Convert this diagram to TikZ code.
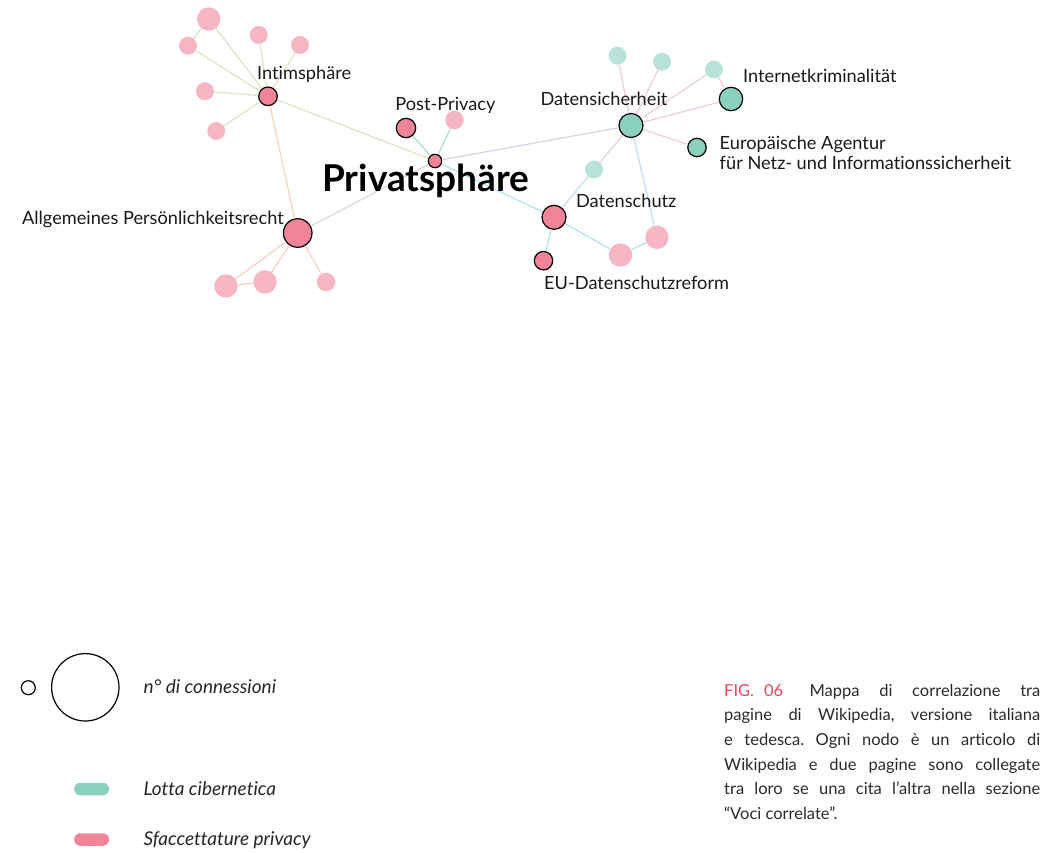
\documentclass[tikz,border=0pt]{standalone}
\usepackage{fontspec}
\setmainfont{Lato}[Ligatures=NoCommon]
\usetikzlibrary{shapes.misc}
\definecolor{dpink}{HTML}{F08597}
\definecolor{lpink}{HTML}{F7B6C3}
\definecolor{dteal}{HTML}{8BCFBF}
\definecolor{lteal}{HTML}{B9E3D8}
\definecolor{egreen}{HTML}{D5E8C2}
\definecolor{eorange}{HTML}{F2D6B4}
\definecolor{esalmon}{HTML}{F7CFC2}
\definecolor{ebeige}{HTML}{DDD6CF}
\definecolor{eteal}{HTML}{A9DCD2}
\definecolor{elav}{HTML}{D8D2E3}
\definecolor{ecyan}{HTML}{AEE2EC}
\definecolor{epink}{HTML}{EDCBE0}
\definecolor{eblue}{HTML}{C3DDF0}
\definecolor{figred}{HTML}{E8495A}
\definecolor{captext}{HTML}{2A2A2A}
\tikzset{
  dot/.style={circle, inner sep=0pt, minimum size=#1},
  lp/.style={dot=#1, fill=lpink, draw=none},
  lt/.style={dot=#1, fill=lteal, draw=none},
  dp/.style={dot=#1, fill=dpink, draw=black, line width=1.2pt},
  dt/.style={dot=#1, fill=dteal, draw=black, line width=1.2pt},
  edge/.style={draw=#1, line width=1.2pt},
  lbl/.style={inner sep=0pt, anchor=base west, font=\fontsize{18.2}{21}\selectfont, text=black!90},
  leg/.style={inner sep=0pt, anchor=base west, font=\fontsize{19}{22}\selectfont\itshape, text=black!85},
  pill/.style={rounded rectangle, inner sep=0pt, minimum width=35pt, minimum height=12.5pt, draw=none, fill=#1},
}
\begin{document}
\begin{tikzpicture}[x=1pt,y=-1pt]
\useasboundingbox (0,0) rectangle (1047,853);
% nodes left
\node[lp=23.4pt] (a1) at (208.7,19) {};
\node[lp=18pt] (a2) at (188,45.7) {};
\node[lp=18pt] (a3) at (258.7,35) {};
\node[lp=18pt] (a4) at (300,45) {};
\node[lp=18pt] (a5) at (205,91.3) {};
\node[lp=18pt] (a6) at (216.3,131) {};
\node[dp=18.6pt] (intim) at (268,96.3) {};
\node[dp=28.6pt] (allg) at (297.7,233) {};
\node[lp=23.4pt] (b1) at (226,286) {};
\node[lp=23.4pt] (b2) at (265,282) {};
\node[lp=18.6pt] (b3) at (326,282) {};
\node[dp=19.4pt] (post) at (406,128) {};
\node[lp=18.6pt] (pp) at (454.5,120) {};
\node[dp=13.4pt] (priv) at (435,161) {};
% nodes right
\node[dt=24pt] (ds) at (631,125.5) {};
\node[lt=18pt] (c1) at (617.5,55.7) {};
\node[lt=18pt] (c2) at (662,61.7) {};
\node[lt=18pt] (c3) at (714,69.5) {};
\node[dt=23.4pt] (inet) at (731,99) {};
\node[dt=18.4pt] (eur) at (697,147.5) {};
\node[lt=18pt] (c4) at (594,169.5) {};
\node[dp=24pt] (dsch) at (554,217.3) {};
\node[dp=18.4pt] (eu) at (543.5,260.7) {};
\node[lp=23.4pt] (d1) at (620.5,255) {};
\node[lp=23.4pt] (d2) at (657,237.3) {};
% edges
\foreach \n in {a1,a2,a3,a4,a5,a6} \draw[edge=egreen] (\n) -- (intim);
\draw[edge=egreen] (a1) -- (a2);
\draw[edge=egreen] (intim) -- (priv);
\draw[edge=eorange] (intim) -- (allg);
\draw[edge=ebeige] (allg) -- (priv);
\draw[edge=esalmon] (allg) -- (b1);
\draw[edge=esalmon] (allg) -- (b2);
\draw[edge=esalmon] (b1) -- (b2);
\draw[edge=esalmon] (allg) -- (b3);
\draw[edge=eteal] (post) -- (priv);
\draw[edge=eteal] (pp) -- (priv);
\draw[edge=elav] (priv) -- (ds);
\draw[edge=ecyan] (priv) -- (dsch);
\foreach \n in {c1,c2,c3,inet,eur,c4} \draw[edge=epink] (ds) -- (\n);
\draw[edge=epink] (c3) -- (inet);
\draw[edge=eblue] (c4) -- (dsch);
\draw[edge=eblue] (ds) -- (d2);
\draw[edge=ecyan] (dsch) -- (d1);
\draw[edge=ecyan] (d1) -- (d2);
\draw[edge=ecyan] (dsch) -- (eu);
% labels
\node[lbl] (lintim) at (257,80) {Intimsphäre};
\node[lbl] (lpost) at (395.2,111) {Post-Privacy};
\node[inner sep=0pt, anchor=base west, font=\fontsize{37}{42}\selectfont\bfseries, text=black] (lpriv) at (322,191.7) {Privatsphäre};
\node[lbl, anchor=base east] (lallg) at (284,225) {Allgemeines Persönlichkeitsrecht};
\node[lbl] (lds) at (540.4,106) {Datensicherheit};
\node[lbl] (linet) at (743,82.7) {Internetkriminalität};
\node[lbl] (leur1) at (719.5,149.3) {Europäische Agentur};
\node[lbl] (leur2) at (719.5,170) {für Netz- und Informationssicherheit};
\node[lbl] (ldsch) at (575.8,207.7) {Datenschutz};
\node[lbl] (leu) at (544,290) {EU-Datenschutzreform};
% legend
\node[dot=14pt, draw=black, line width=1.2pt] (lsmall) at (28.3,687.7) {};
\node[dot=67.4pt, draw=black, line width=1.2pt] (lbig) at (85.3,687.3) {};
\node[leg] (tconn) at (143.3,693.3) {n° di connessioni};
\node[pill=dteal] (pteal) at (91.6,789) {};
\node[pill=dpink] (ppink) at (91.6,839.5) {};
\node[leg] (tlotta) at (143.3,795) {Lotta cibernetica};
\node[leg] (tsfac) at (143.3,845) {Sfaccettature privacy};
% caption
\node[inner sep=0pt, anchor=north west, text width=316pt, align=justify, text=captext,
  font=\fontsize{16.5}{24.6}\selectfont] (cap) at (724,684)
  {\frenchspacing\hyphenpenalty=10000\mbox{\textcolor{figred}{FIG.\hspace{0.6em}06}\hspace{1.6em}Mappa} di correlazione tra\linebreak
  pagine di Wikipedia, versione italiana\linebreak
  e tedesca. Ogni nodo è un articolo di\linebreak
  Wikipedia e due pagine sono collegate\linebreak
  tra loro se una cita l’altra nella sezione\linebreak
  “Voci correlate”.};
\end{tikzpicture}
\end{document}
